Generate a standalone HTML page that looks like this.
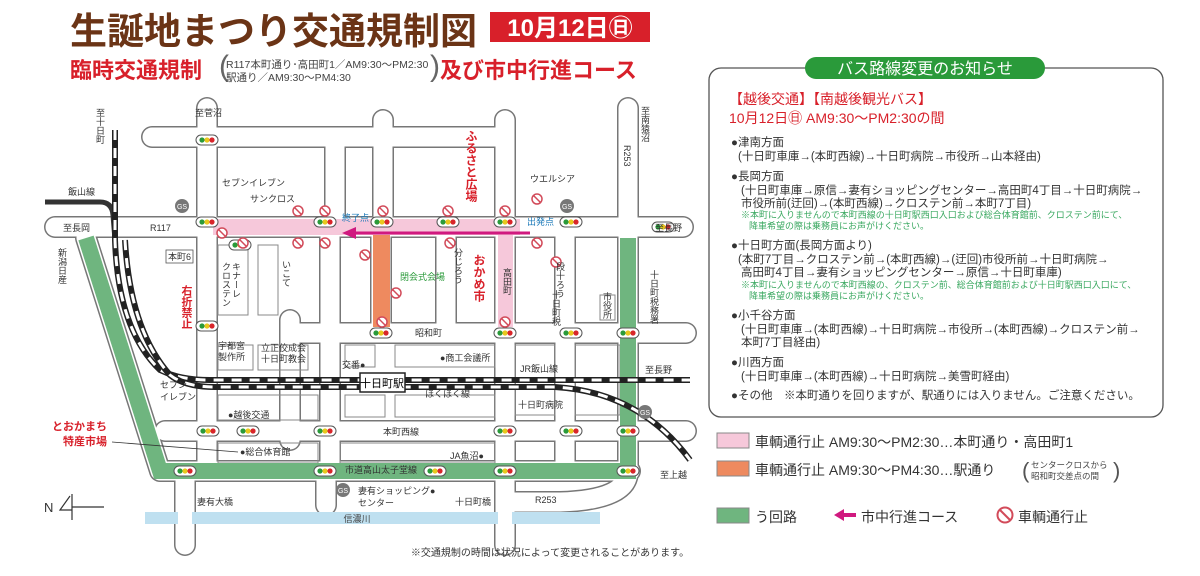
<!DOCTYPE html>
<html><head><meta charset="utf-8"><style>
html,body{margin:0;padding:0;background:#fff;}
svg{display:block;font-family:"Liberation Sans","Noto Sans CJK JP",sans-serif;}
.v{writing-mode:vertical-rl;}
</style></head><body>
<svg width="1200" height="576" viewBox="0 0 1200 576" xmlns="http://www.w3.org/2000/svg">
<defs>
<g id="tl"><rect x="-11" y="-5" width="22" height="10" rx="5" fill="#fff" stroke="#555" stroke-width="1"/><circle cx="-5" cy="0" r="2.6" fill="#2a9a3a"/><circle cx="0" cy="0" r="2.6" fill="#e8c81e"/><circle cx="5" cy="0" r="2.6" fill="#d8252a"/></g>
<g id="np"><circle r="5" fill="#fff" stroke="#d24b5a" stroke-width="1.5"/><line x1="-3.5" y1="-3.5" x2="3.5" y2="3.5" stroke="#d24b5a" stroke-width="1.5"/></g>
<g id="gs"><circle r="7" fill="#777"/><text x="0" y="3" font-size="7" fill="#fff" text-anchor="middle">GS</text></g>
</defs>

<text x="70" y="44" font-size="37" font-weight="bold" fill="#6b3416">生誕地まつり交通規制図</text>
<rect x="490" y="12" width="160" height="30" fill="#d8202a"/>
<text x="570" y="36" font-size="24" font-weight="bold" fill="#fff" text-anchor="middle">10月12日㊐</text>
<text x="70" y="78" font-size="22" font-weight="bold" fill="#d8202a">臨時交通規制</text>
<text x="219" y="76" font-size="30" fill="#666">(</text>
<text x="226" y="68" font-size="10.5" fill="#444">R117本町通り･高田町1／AM9:30〜PM2:30</text>
<text x="226" y="81" font-size="10.5" fill="#444">駅通り／AM9:30〜PM4:30</text>
<text x="430" y="76" font-size="30" fill="#666">)</text>
<text x="440" y="78" font-size="22" font-weight="bold" fill="#d8202a">及び市中行進コース</text>

<g fill="none" stroke="#777" stroke-width="22" stroke-linecap="round" stroke-linejoin="round">
<path d="M55 227H683"/>
<path d="M152 137H505"/>
<path d="M207 108V470M383 120V227M505 120V470M335 137V227M628 108V470"/>
<path d="M330 237V470M381 237V330M446 237V330M565 237V470M290 320V440"/>
<path d="M290 333H686"/>
<path d="M165 431H686"/>
<path d="M86 238L160 471H630"/>
<path d="M185 471V545M505 471V545M326 471V505"/>
<path d="M628 471Q628 500 560 502H515"/>
</g>
<g fill="none" stroke="#fff" stroke-width="19" stroke-linecap="round" stroke-linejoin="round">
<path d="M55 227H683"/>
<path d="M152 137H505"/>
<path d="M207 108V470M383 120V227M505 120V470M335 137V227M628 108V470"/>
<path d="M330 237V470M381 237V330M446 237V330M565 237V470M290 320V440"/>
<path d="M290 333H686"/>
<path d="M165 431H686"/>
<path d="M86 238L160 471H630"/>
<path d="M185 471V545M505 471V545M326 471V505"/>
<path d="M628 471Q628 500 560 502H515"/>
</g>
<g fill="none" stroke="#888" stroke-width="1">
<rect x="218" y="245" width="30" height="70" /><rect x="258" y="245" width="20" height="70"/>
<rect x="218" y="345" width="35" height="25"/><rect x="258" y="345" width="50" height="25"/>
<rect x="345" y="345" width="30" height="22"/><rect x="395" y="345" width="100" height="22"/>
<rect x="395" y="395" width="100" height="22"/><rect x="345" y="395" width="40" height="22"/>
<rect x="515" y="345" width="40" height="70"/><rect x="575" y="345" width="45" height="70"/>
<rect x="218" y="395" width="100" height="25"/><rect x="340" y="443" width="155" height="20"/>
<rect x="218" y="443" width="100" height="20"/><rect x="600" y="295" width="15" height="25"/>
</g>
<rect x="213" y="219" width="307" height="16" fill="#f6c8da"/>
<rect x="498" y="235" width="15" height="92" fill="#f6c8da"/>
<rect x="373" y="235" width="17" height="92" fill="#ee8a5f"/>
<g fill="none" stroke="#6fb57f" stroke-width="16" stroke-linejoin="miter">
<path d="M86 238L160 471H628V238"/>
</g>
<rect x="145" y="512" width="455" height="12" fill="#bfe0f0"/>
<text x="357" y="522" font-size="9" fill="#444" text-anchor="middle">信濃川</text>
<rect x="178" y="505" width="14" height="26" fill="#fff"/><rect x="498" y="505" width="14" height="26" fill="#fff"/>

<g fill="none" stroke-linecap="butt">
<path d="M45 202H100Q112 202 113 215L115 240" stroke="#333" stroke-width="5"/>
<path d="M115 130V240Q118 330 160 370Q180 380 210 380H690" stroke="#222" stroke-width="6"/>
<path d="M115 130V240Q118 330 160 370Q180 380 210 380H690" stroke="#fff" stroke-width="3" stroke-dasharray="10 8"/>
<path d="M125 240Q130 330 170 375Q185 387 215 387H555Q640 392 690 460" stroke="#222" stroke-width="6"/>
<path d="M125 240Q130 330 170 375Q185 387 215 387H555Q640 392 690 460" stroke="#fff" stroke-width="3" stroke-dasharray="10 8"/>
</g>
<rect x="360" y="373" width="45" height="19" fill="#fff" stroke="#222" stroke-width="1.5"/>
<text x="382" y="387" font-size="11" text-anchor="middle">十日町駅</text>

<line x1="355" y1="233" x2="530" y2="233" stroke="#d0197f" stroke-width="3"/>
<polygon points="342,233 356,227 356,239" fill="#d0197f"/>

<use href="#tl" x="207" y="140"/>
<use href="#tl" x="207" y="222"/><use href="#tl" x="240" y="245"/><use href="#tl" x="325" y="222"/><use href="#tl" x="382" y="222"/><use href="#tl" x="448" y="222"/><use href="#tl" x="505" y="222"/><use href="#tl" x="571" y="222"/><use href="#tl" x="663" y="227"/>
<use href="#tl" x="207" y="326"/><use href="#tl" x="381" y="333"/><use href="#tl" x="505" y="333"/><use href="#tl" x="571" y="333"/><use href="#tl" x="628" y="333"/>
<use href="#tl" x="208" y="431"/><use href="#tl" x="248" y="431"/><use href="#tl" x="325" y="431"/><use href="#tl" x="505" y="431"/><use href="#tl" x="571" y="431"/><use href="#tl" x="628" y="431"/>
<use href="#tl" x="185" y="471"/><use href="#tl" x="325" y="471"/><use href="#tl" x="435" y="471"/><use href="#tl" x="505" y="471"/><use href="#tl" x="628" y="471"/>
<use href="#np" x="298" y="211"/><use href="#np" x="325" y="211"/><use href="#np" x="383" y="211"/><use href="#np" x="448" y="211"/><use href="#np" x="505" y="211"/><use href="#np" x="537" y="199"/><use href="#np" x="222" y="233"/><use href="#np" x="243" y="243"/><use href="#np" x="298" y="243"/><use href="#np" x="325" y="243"/><use href="#np" x="365" y="255"/><use href="#np" x="450" y="243"/><use href="#np" x="537" y="243"/><use href="#np" x="556" y="262"/><use href="#np" x="396" y="293"/><use href="#np" x="382" y="322"/><use href="#np" x="505" y="322"/>
<use href="#gs" x="182" y="206"/><use href="#gs" x="567" y="206"/><use href="#gs" x="343" y="490"/><use href="#gs" x="645" y="412"/>

<g font-size="9" fill="#333">
<text x="195" y="116">至菅沼</text>
<text x="63" y="231">至長岡</text><text x="150" y="231">R117</text><text x="655" y="231">至長野</text>
<text x="68" y="195">飯山線</text>
<text x="222" y="186">セブンイレブン</text><text x="250" y="202">サンクロス</text>
<text x="530" y="182">ウエルシア</text>
<text x="342" y="221" fill="#1a78b8">終了点</text><text x="527" y="225" fill="#1a78b8">出発点</text>
<rect x="166" y="250" width="27" height="13" fill="#fff" stroke="#555" stroke-width=".8"/><text x="168" y="260">本町6</text>
<text x="400" y="280" fill="#2a9a3a">閉会式会場</text>
<text x="440" y="361">●商工会議所</text><text x="342" y="368">交番●</text>
<text x="520" y="372">JR飯山線</text><text x="645" y="373">至長野</text>
<text x="425" y="397">ほくほく線</text>
<text x="518" y="408">十日町病院</text>
<text x="228" y="418">●越後交通</text>
<text x="383" y="435">本町西線</text><text x="415" y="336">昭和町</text>
<text x="240" y="455">●総合体育館</text><text x="450" y="459">JA魚沼●</text>
<text x="345" y="473">市道高山太子堂線</text>
<text x="358" y="494">妻有ショッピング●</text><text x="358" y="506">センター</text>
<text x="197" y="505">妻有大橋</text><text x="455" y="505">十日町橋</text><text x="535" y="503">R253</text>
<text x="660" y="478">至上越</text>
<text x="218" y="349">宇都宮</text><text x="218" y="360">製作所</text>
<text x="261" y="351">立正佼成会</text><text x="261" y="362">十日町教会</text>
<text x="160" y="388">セブン</text><text x="160" y="400">イレブン</text>
</g>
<g font-size="9" fill="#333">
<text x="100" y="108" class="v">至十日町</text>
<text x="645" y="106" class="v">至南猿沼</text>
<text x="627" y="145" class="v">R253</text>
<text x="62" y="248" class="v">新潟日産</text>
<text x="458" y="248" class="v">分じろう</text>
<text x="507" y="268" class="v">高田町</text>
<text x="286" y="260" class="v">いこて</text>
<text x="236" y="262" class="v">キナーレ</text><text x="226" y="262" class="v">クロステン</text>
<text x="560" y="262" class="v">段十ろう</text>
<text x="556" y="290" class="v">十日町税</text>
<text x="607" y="292" class="v">市役所</text>
<text x="654" y="270" class="v">十日町税務署</text>
</g>
<text x="471" y="130" class="v" font-size="12" font-weight="bold" fill="#d8202a">ふるさと広場</text>
<text x="479" y="254" class="v" font-size="12" font-weight="bold" fill="#d8202a">おかめ市</text>
<text x="186" y="285" class="v" font-size="11" font-weight="bold" fill="#d8202a">右折禁止</text>
<text x="107" y="430" font-size="11" font-weight="bold" fill="#d8202a" text-anchor="end">とおかまち</text>
<text x="107" y="445" font-size="11" font-weight="bold" fill="#d8202a" text-anchor="end">特産市場</text>
<line x1="112" y1="442" x2="238" y2="452" stroke="#333" stroke-width=".8"/>
<text x="44" y="512" font-size="13" fill="#333">N</text>
<path d="M70 496L60 510H72M72 494V520M72 507H104" fill="none" stroke="#333" stroke-width="1.2"/>
<text x="550" y="556" font-size="10" fill="#333" text-anchor="middle">※交通規制の時間は状況によって変更されることがあります。</text>

<rect x="709" y="68" width="454" height="349" rx="12" fill="#fff" stroke="#555" stroke-width="1.3"/>
<rect x="805" y="57" width="240" height="22" rx="11" fill="#2a9a3a"/>
<text x="925" y="74" font-size="16" fill="#fff" text-anchor="middle">バス路線変更のお知らせ</text>
<text x="729" y="104" font-size="14" fill="#d8202a">【越後交通】【南越後観光バス】</text>
<text x="729" y="123" font-size="14" fill="#d8202a">10月12日㊐ AM9:30〜PM2:30の間</text>
<g font-size="11.5" fill="#333">
<text x="731" y="146">●津南方面</text>
<text x="738" y="160">(十日町車庫→(本町西線)→十日町病院→市役所→山本経由)</text>
<text x="731" y="180">●長岡方面</text>
<text x="741" y="194">(十日町車庫→原信→妻有ショッピングセンター→高田町4丁目→十日町病院→</text>
<text x="741" y="207">市役所前(迂回)→(本町西線)→クロステン前→本町7丁目)</text>
<text x="731" y="249">●十日町方面(長岡方面より)</text>
<text x="738" y="263">(本町7丁目→クロステン前→(本町西線)→(迂回)市役所前→十日町病院→</text>
<text x="741" y="276">高田町4丁目→妻有ショッピングセンター→原信→十日町車庫)</text>
<text x="731" y="319">●小千谷方面</text>
<text x="741" y="333">(十日町車庫→(本町西線)→十日町病院→市役所→(本町西線)→クロステン前→</text>
<text x="741" y="346">本町7丁目経由)</text>
<text x="731" y="366">●川西方面</text>
<text x="741" y="380">(十日町車庫→(本町西線)→十日町病院→美雪町経由)</text>
<text x="731" y="399">●その他　※本町通りを回りますが、駅通りには入りません。ご注意ください。</text>
</g>
<g font-size="9" fill="#3aa860">
<text x="741" y="218">※本町に入りませんので本町西線の十日町駅西口入口および総合体育館前、クロステン前にて、</text>
<text x="749" y="229">降車希望の際は乗務員にお声がけください。</text>
<text x="741" y="288">※本町に入りませんので本町西線の、クロステン前、総合体育館前および十日町駅西口入口にて、</text>
<text x="749" y="299">降車希望の際は乗務員にお声がけください。</text>
</g>

<rect x="717" y="433" width="32" height="15" fill="#f6c8da" stroke="#888"/>
<text x="755" y="447" font-size="14" fill="#333">車輌通行止 AM9:30〜PM2:30…本町通り・高田町1</text>
<rect x="717" y="461" width="32" height="15" fill="#ee8a5f" stroke="#888"/>
<text x="755" y="475" font-size="14" fill="#333">車輌通行止 AM9:30〜PM4:30…駅通り</text>
<text x="1022" y="478" font-size="22" fill="#555">(</text>
<text x="1031" y="468" font-size="8.5" fill="#444">センタークロスから</text>
<text x="1031" y="479" font-size="8.5" fill="#444">昭和町交差点の間</text>
<text x="1113" y="478" font-size="22" fill="#555">)</text>
<rect x="717" y="508" width="32" height="15" fill="#6fb57f" stroke="#888"/>
<text x="755" y="522" font-size="14" fill="#333">う回路</text>
<line x1="842" y1="515" x2="856" y2="515" stroke="#d0197f" stroke-width="4"/>
<polygon points="834,515 844,509 844,521" fill="#d0197f"/>
<text x="861" y="522" font-size="14" fill="#333">市中行進コース</text>
<circle cx="1005" cy="515" r="7.5" fill="none" stroke="#d24b5a" stroke-width="2"/>
<line x1="1000" y1="510" x2="1010" y2="520" stroke="#d24b5a" stroke-width="2"/>
<text x="1018" y="522" font-size="14" fill="#333">車輌通行止</text>
</svg>
</body></html>
